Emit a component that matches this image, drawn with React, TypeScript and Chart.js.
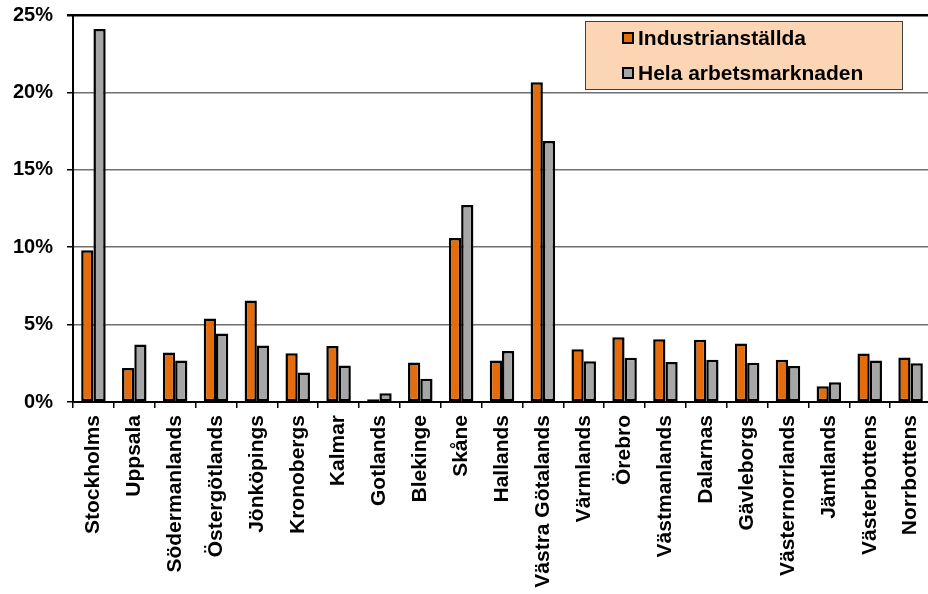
import React, { useEffect, useRef } from "react";
import { Chart, registerables } from "chart.js";

Chart.register(...registerables);

const categories = [
  "Stockholms", "Uppsala", "Södermanlands", "Östergötlands", "Jönköpings",
  "Kronobergs", "Kalmar", "Gotlands", "Blekinge", "Skåne", "Hallands",
  "Västra Götalands", "Värmlands", "Örebro", "Västmanlands", "Dalarnas",
  "Gävleborgs", "Västernorrlands", "Jämtlands", "Västerbottens", "Norrbottens",
];

const industrianstallda = [
  9.8, 2.2, 3.2, 5.4, 6.55, 3.15, 3.62, 0.18, 2.55, 10.6, 2.68,
  20.65, 3.4, 4.19, 4.06, 4.02, 3.78, 2.73, 1.02, 3.14, 2.88,
];

const helaArbetsmarknaden = [
  24.1, 3.72, 2.68, 4.43, 3.65, 1.9, 2.36, 0.57, 1.5, 12.73, 3.29,
  16.86, 2.64, 2.86, 2.58, 2.73, 2.54, 2.32, 1.28, 2.68, 2.51,
];

const seriesLabels = ["Industrianställda", "Hela arbetsmarknaden"];
const yTicks = [0, 5, 10, 15, 20, 25];

const FONT = "'Liberation Sans', Arial, Helvetica, sans-serif";
const ORANGE = "#E46C0A";
const GREY = "#A6A6A6";

const legendPlugin = {
  id: "customLegend",
  afterDraw(chart: any) {
    const ctx = chart.ctx;
    const x0 = 585;
    const y0 = 21;
    const w = 318;
    const h = 69;
    ctx.save();
    ctx.fillStyle = "#FCD5B5";
    ctx.fillRect(x0, y0, w, h);
    ctx.strokeStyle = "#404040";
    ctx.lineWidth = 1;
    ctx.strokeRect(x0 + 0.5, y0 + 0.5, w - 1, h - 1);
    const colors = [ORANGE, GREY];
    chart.data.datasets.forEach((ds: any, i: number) => {
      const cy = 38 + i * 35;
      ctx.fillStyle = colors[i];
      ctx.fillRect(622, cy - 6, 12, 12);
      ctx.strokeStyle = "#000";
      ctx.lineWidth = 2;
      ctx.strokeRect(623, cy - 5, 10, 10);
      ctx.fillStyle = "#000";
      ctx.font = `bold 21px ${FONT}`;
      ctx.textAlign = "left";
      ctx.textBaseline = "middle";
      ctx.fillText(ds.label, 638, cy + 1);
    });
    ctx.restore();
  },
};

export default function App() {
  const ref = useRef<HTMLCanvasElement>(null);

  useEffect(() => {
    document.body.style.overflow = "hidden";
    const canvas = ref.current!;
    const chart = new Chart(canvas, {
      type: "bar",
      data: {
        labels: categories,
        datasets: [
          {
            label: seriesLabels[0],
            data: industrianstallda,
            backgroundColor: ORANGE,
            borderColor: "#000",
            borderWidth: 2.5,
            borderSkipped: false,
          },
          {
            label: seriesLabels[1],
            data: helaArbetsmarknaden,
            backgroundColor: GREY,
            borderColor: "#000",
            borderWidth: 2.5,
            borderSkipped: false,
          },
        ],
      },
      options: {
        responsive: false,
        animation: false,
        layout: { padding: { top: 15, right: 0, left: 0, bottom: 0 } },
        datasets: { bar: { categoryPercentage: 0.6, barPercentage: 1 } },
        plugins: {
          legend: { display: false },
          tooltip: { enabled: false },
        },
        scales: {
          x: {
            grid: {
              drawOnChartArea: false,
              drawTicks: true,
              tickLength: 6,
              tickColor: "#000",
              lineWidth: 1.5,
              offset: true,
            },
            border: { display: true, color: "#000", width: 2 },
            ticks: {
              autoSkip: false,
              minRotation: 90,
              maxRotation: 90,
              padding: 7,
              color: "#000",
              font: { family: FONT, size: 21, weight: "bold" },
            },
            afterFit: (s: any) => {
              s.height = 192;
              s.paddingLeft = 0;
              s.paddingRight = 0;
            },
          },
          y: {
            min: 0,
            max: 25,
            afterBuildTicks: (s: any) => {
              s.ticks = yTicks.map((v) => ({ value: v }));
            },
            grid: {
              color: (c: any) => (c.tick && c.tick.value === 25 ? "#000" : "#707070"),
              lineWidth: (c: any) => (c.tick && c.tick.value === 25 ? 2.5 : 1.5),
              tickLength: 6,
              tickColor: "#000",
            },
            border: { display: true, color: "#000", width: 2 },
            ticks: {
              padding: 14,
              color: "#000",
              font: { family: FONT, size: 20, weight: "bold" },
              callback: (v: any) => `${v}%`,
            },
            afterFit: (s: any) => {
              s.width = 73;
              s.paddingTop = 0;
              s.paddingBottom = 0;
            },
          },
        },
      },
      plugins: [legendPlugin],
    });
    return () => chart.destroy();
  }, []);

  return (
    <div style={{ position: "fixed", left: 0, top: 0, width: 931, height: 594 }}>
      <canvas ref={ref} width={931} height={594} style={{ display: "block" }} />
    </div>
  );
}
